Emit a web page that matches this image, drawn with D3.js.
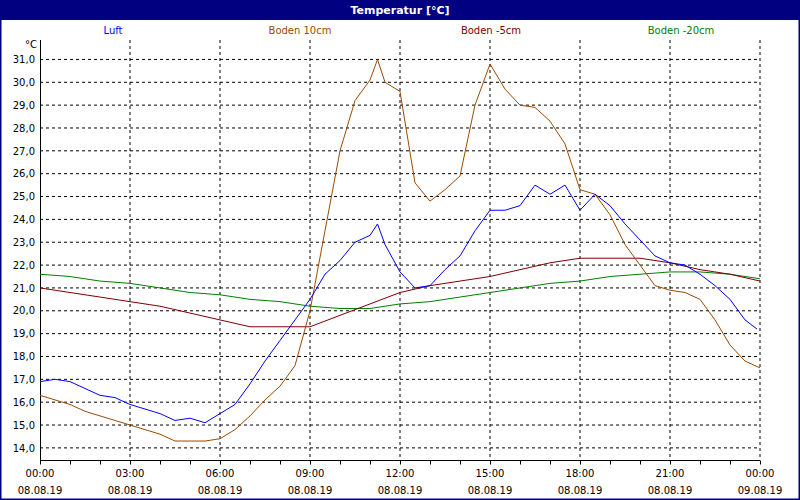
<!DOCTYPE html>
<html><head><meta charset="utf-8">
<script src="https://cdn.jsdelivr.net/npm/d3@7"></script>
<style>body{margin:0}svg{display:block;font-family:"DejaVu Sans",Verdana,sans-serif}</style>
</head><body><svg id="c" width="800" height="500"></svg>
<script>
const seriesNames = ['Luft', 'Boden 10cm', 'Boden -5cm', 'Boden -20cm'];
const seriesColors = ['#0000ff', '#9a4a00', '#800000', '#008000'];

const luftHours = [0,0.5,1,1.5,2,2.5,3,3.5,4,4.5,5,5.5,6,6.5,7,7.5,8,8.5,9,9.5,10,10.5,11,11.25,11.5,12,12.5,13,13.5,14,14.5,15,15.5,16,16.5,17,17.5,18,18.5,19,19.5,20,20.5,21,21.5,22,22.5,23,23.5,23.9];
const luftValues = [16.9,17.0,16.9,16.6,16.3,16.2,15.9,15.7,15.5,15.2,15.3,15.1,15.5,15.9,16.8,17.8,18.7,19.6,20.5,21.6,22.2,23.0,23.3,23.8,22.9,21.7,21.0,21.1,21.8,22.4,23.5,24.4,24.4,24.6,25.5,25.1,25.5,24.4,25.1,24.6,23.8,23.1,22.4,22.1,22.0,21.6,21.1,20.5,19.6,19.2];

const boden10Hours = [0,0.5,1,1.5,2,2.5,3,3.5,4,4.5,5,5.5,6,6.5,7,7.5,8,8.5,9,9.5,10,10.5,11,11.25,11.5,12,12.5,13,13.5,14,14.5,15,15.5,16,16.5,17,17.5,18,18.5,19,19.5,20,20.5,21,21.5,22,22.5,23,23.5,24];
const boden10Values = [16.3,16.1,15.9,15.6,15.4,15.2,15.0,14.8,14.6,14.3,14.3,14.3,14.4,14.8,15.4,16.1,16.7,17.6,20.0,23.5,27.0,29.2,30.1,31.0,30.0,29.6,25.6,24.8,25.3,25.9,29.0,30.8,29.7,29.0,28.9,28.3,27.3,25.3,25.1,24.2,22.9,22.0,21.1,20.9,20.8,20.5,19.6,18.5,17.8,17.5];

const boden5Hours = [0,1,2,3,4,5,6,7,8,9,10,11,12,13,14,15,16,17,18,19,20,21,22,23,24];
const boden5Values = [21.0,20.8,20.6,20.4,20.2,19.9,19.6,19.3,19.3,19.3,19.8,20.3,20.8,21.1,21.3,21.5,21.8,22.1,22.3,22.3,22.3,22.1,21.8,21.6,21.3];

const boden20Hours = [0,1,2,3,4,5,6,7,8,9,10,11,12,13,14,15,16,17,18,19,20,21,22,23,24];
const boden20Values = [21.6,21.5,21.3,21.2,21.0,20.8,20.7,20.5,20.4,20.2,20.1,20.1,20.3,20.4,20.6,20.8,21.0,21.2,21.3,21.5,21.6,21.7,21.7,21.6,21.4];

const yTicks = [14,15,16,17,18,19,20,21,22,23,24,25,26,27,28,29,30,31];
const xTickHours = [0,3,6,9,12,15,18,21,24];
const xTickTimes = ['00:00','03:00','06:00','09:00','12:00','15:00','18:00','21:00','00:00'];
const xTickDates = ['08.08.19','08.08.19','08.08.19','08.08.19','08.08.19','08.08.19','08.08.19','08.08.19','09.08.19'];

const svg = d3.select('#c');
const L = 40, R = 760, T = 40, B = 460;
const x = d3.scaleLinear().domain([0, 24]).range([L, R]);
const y = d3.scaleLinear().domain([13.47, 31.85]).range([B, T]);

svg.append('rect').attr('x', 0.5).attr('y', 0.5).attr('width', 799).attr('height', 499)
  .attr('fill', '#fff').attr('stroke', '#000080').attr('stroke-width', 2);
svg.append('rect').attr('x', 0).attr('y', 0).attr('width', 800).attr('height', 20).attr('fill', '#000080');
svg.append('text').attr('x', 400).attr('y', 14).attr('text-anchor', 'middle')
  .attr('fill', '#fff').attr('font-size', 11).attr('font-weight', 'bold').text('Temperatur [°C]');

// legende
const legX = [113, 300, 491, 681];
seriesNames.forEach((n, i) => {
  svg.append('text').attr('x', legX[i]).attr('y', 34).attr('text-anchor', 'middle')
    .attr('font-size', 10).attr('fill', seriesColors[i]).text(n);
});

// gitter
const grid = svg.append('g').attr('stroke', '#000').attr('stroke-dasharray', '3,3');
yTicks.forEach((v) => grid.append('line').attr('x1', L).attr('x2', R).attr('y1', y(v)).attr('y2', y(v)));
xTickHours.slice(1).forEach((h) => grid.append('line').attr('x1', x(h)).attr('x2', x(h)).attr('y1', T).attr('y2', B));

const yAxis = d3.axisLeft(y).tickValues(yTicks).tickSize(0).tickPadding(5)
  .tickFormat((d) => d3.format('.1f')(d).replace('.', ','));
const gy = svg.append('g').attr('transform', `translate(${L},0)`).call(yAxis);
gy.select('.domain').remove();
gy.selectAll('text').attr('font-size', 10).attr('font-family', 'DejaVu Sans').attr('fill', '#000');
svg.append('line').attr('x1', L + 0.5).attr('x2', L + 0.5).attr('y1', T).attr('y2', B).attr('stroke', '#000');
svg.append('text').attr('x', 37).attr('y', 48).attr('text-anchor', 'end').attr('font-size', 10).text('°C');

const xAxis = d3.axisBottom(x).ticks(24).tickSize(4).tickFormat('');
const gx = svg.append('g').attr('transform', `translate(0,${B + 0.5})`).call(xAxis);
gx.select('.domain').attr('d', `M${L},0H${R}`);
xTickHours.forEach((h, i) => {
  svg.append('text').attr('x', x(h)).attr('y', 477).attr('text-anchor', 'middle').attr('font-size', 10).text(xTickTimes[i]);
  svg.append('text').attr('x', x(h)).attr('y', 494).attr('text-anchor', 'middle').attr('font-size', 10).text(xTickDates[i]);
});

const line = d3.line().x((d) => x(d[0])).y((d) => y(d[1]));
const lines = [
  [boden20Hours, boden20Values, 3],
  [boden5Hours, boden5Values, 2],
  [boden10Hours, boden10Values, 1],
  [luftHours, luftValues, 0],
];
lines.forEach(([hs, vs, ci]) => {
  svg.append('path').datum(hs.map((h, i) => [h, vs[i]]))
    .attr('d', line).attr('fill', 'none').attr('stroke', seriesColors[ci]).attr('stroke-width', 1);
});
</script></body></html>
